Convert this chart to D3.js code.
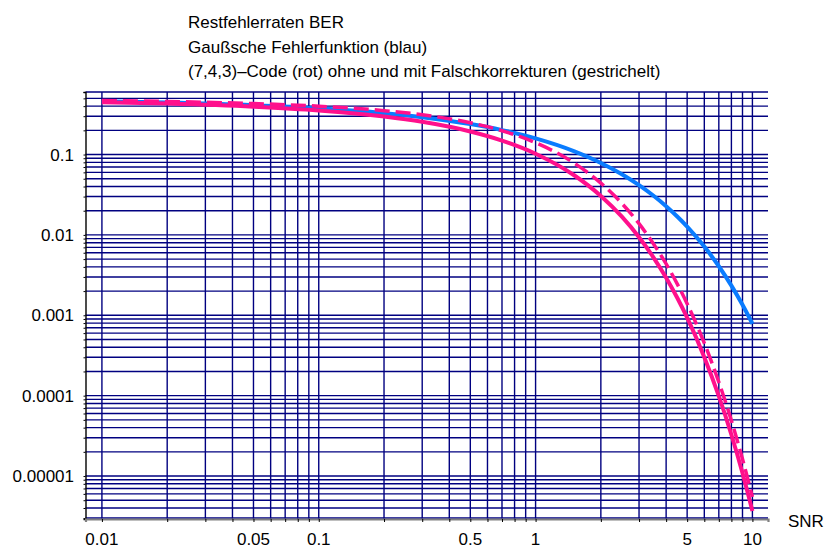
<!DOCTYPE html>
<html>
<head>
<meta charset="utf-8">
<script src="https://cdn.jsdelivr.net/npm/d3@7"></script>
<style>
html,body{margin:0;padding:0;background:#fff;}
svg{display:block;}
text{font-family:"Liberation Sans",Arial,sans-serif;fill:#000;}
</style>
</head>
<body>
<svg id="chart" width="827" height="549"></svg>
<script>
// ---- data ----
const snr = [0.01,0.02,0.05,0.1,0.2,0.3,0.5,0.7,1,1.5,2,2.5,3,3.5,4,4.5,5,6,7,8,9,10];
const berGauss = [0.4602,0.4438,0.4115,0.3759,0.3274,0.2919,0.2398,0.2014,0.1587,0.1103,0.07865,0.05692,0.04163,0.03068,0.02275,0.01694,0.01267,0.007152,0.004075,0.002339,0.00135,0.000783];
const berCode = [0.4488,0.4306,0.3944,0.3537,0.2970,0.2552,0.1935,0.1491,0.1024,0.05562,0.03054,0.01687,0.009376,0.005232,0.002934,0.001651,0.0009337,0.0003015,0.00009863,0.00003263,0.0000109,0.00000367];
const berCodeFalse = [0.4697,0.4571,0.4309,0.3996,0.3518,0.3126,0.2486,0.1980,0.1405,0.07885,0.04414,0.02467,0.01381,0.007728,0.004359,0.00246,0.001394,0.0004509,0.0001477,0.0000489,0.0000163,0.0000055];
const xTickLabels = ["0.01","0.05","0.1","0.5","1","5","10"];
const xTickValues = [0.01,0.05,0.1,0.5,1,5,10];
const yTickLabels = ["0.1","0.01","0.001","0.0001","0.00001"];
const yTickValues = [0.1,0.01,0.001,0.0001,0.00001];
const titleLines = ["Restfehlerraten BER","Gaußsche Fehlerfunktion (blau)","(7,4,3)–Code (rot) ohne und mit Falschkorrekturen (gestrichelt)"];
const xAxisTitle = "SNR";

// ---- layout ----
const svg = d3.select("#chart");
const L = 85.5, R = 768, T = 92, B = 519;
const x = d3.scaleLog().domain([0.0084, 11.8]).range([L, R]);
const y = d3.scaleLog().domain([2.92e-6, 0.6]).range([B, T]);

// grid values
const xGrid = [];
[0.01,0.1,1].forEach(d => { for (let k=1;k<=9;k++) xGrid.push(d*k); });
xGrid.push(10);
const yGrid = [];
[1e-6,1e-5,1e-4,1e-3,1e-2,1e-1].forEach(d => { for (let k=1;k<=9;k++){ const v=d*k; if (v>=2.92e-6 && v<=0.6001) yGrid.push(v);} });

const grid = svg.append("g").attr("stroke","#000080").attr("stroke-width",1.4);
grid.selectAll("line.h").data(yGrid).enter().append("line")
  .attr("x1",L).attr("x2",R).attr("y1",d=>y(d)).attr("y2",d=>y(d));
grid.selectAll("line.v").data(xGrid).enter().append("line")
  .attr("x1",d=>x(d)).attr("x2",d=>x(d)).attr("y1",T).attr("y2",B);

// axes
const yAxis = d3.axisLeft(y).tickValues(yGrid).tickSize(2).tickFormat("");
const ya = svg.append("g").attr("transform",`translate(${L},0)`).call(yAxis);
ya.select(".domain").attr("stroke","#000").attr("stroke-width",1.4);
ya.selectAll(".tick line").attr("stroke","#000");
const xAxis = d3.axisBottom(x).tickValues(xGrid).tickSize(3).tickFormat("");
const xa = svg.append("g").attr("transform",`translate(0,${B})`).call(xAxis);
xa.select(".domain").attr("stroke","#808080").attr("stroke-width",2.2);
xa.selectAll(".tick line").attr("stroke","#000");

// tick labels
svg.append("g").selectAll("text").data(yTickValues).enter().append("text")
  .attr("x",74).attr("y",d=>y(d)+6).attr("text-anchor","end")
  .style("font-size","17px").text((d,i)=>yTickLabels[i]);
svg.append("g").selectAll("text").data(xTickValues).enter().append("text")
  .attr("x",d=>x(d)).attr("y",545).attr("text-anchor","middle")
  .style("font-size","17px").text((d,i)=>xTickLabels[i]);
svg.append("text").attr("x",788).attr("y",527).style("font-size","17px").text(xAxisTitle);

// titles
svg.append("g").selectAll("text").data(titleLines).enter().append("text")
  .attr("x",188).attr("y",(d,i)=>28+i*24.5).style("font-size","17px").text(d=>d);

// curves
const line = d3.line().x(d=>x(d[0])).y(d=>y(d[1])).curve(d3.curveMonotoneX);
svg.append("path").datum(snr.map((s,i)=>[s,berGauss[i]]))
  .attr("d",line).attr("fill","none").attr("stroke","#0a7cff").attr("stroke-width",4);
svg.append("path").datum(snr.map((s,i)=>[s,berCode[i]]))
  .attr("d",line).attr("fill","none").attr("stroke","#ff108c").attr("stroke-width",4);
svg.append("path").datum(snr.map((s,i)=>[s,berCodeFalse[i]]))
  .attr("d",line).attr("fill","none").attr("stroke","#ff108c").attr("stroke-width",3.5)
  .attr("stroke-dasharray","15,6");
</script>
</body>
</html>
